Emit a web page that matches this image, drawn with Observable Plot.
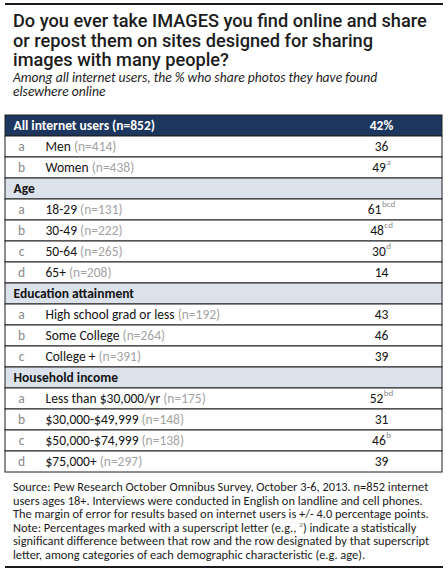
<!DOCTYPE html>
<html><head><meta charset="utf-8">
<script src="https://cdn.jsdelivr.net/npm/d3@7"></script>
<script src="https://cdn.jsdelivr.net/npm/@observablehq/plot@0.6"></script>
<style>
body{margin:0;background:#fff;width:448px;}
svg{display:block;}
</style>
</head><body>
<div id="chart"></div>
<script>
// ---- data ----
const titleLines = ["Do you ever take IMAGES you find online and share", "or repost them on sites designed for sharing", "images with many people?"];
const subtitleLines = ["Among all internet users, the % who share photos they have found", "elsewhere online"];
const rowLabels = ["All internet users","Men","Women","Age","18-29","30-49","50-64","65+","Education attainment","High school grad or less","Some College","College +","Household income","Less than $30,000/yr","$30,000-$49,999","$50,000-$74,999","$75,000+"];
const rowKinds  = ["total","item","item","section","item","item","item","item","section","item","item","item","section","item","item","item","item"];
const rowLetters = ["","a","b","","a","b","c","d","","a","b","c","","a","b","c","d"];
const rowN = [852,414,438,null,131,222,265,208,null,192,264,391,null,175,148,138,297];
const rowValues = [42,36,49,null,61,48,30,14,null,43,46,39,null,52,31,46,39];
const rowSups = ["","","a","","bcd","cd","d","","","","","","","bd","","b",""];
const sourceLines = [
  "Source: Pew Research October Omnibus Survey, October 3-6, 2013. n=852 internet",
  "users ages 18+. Interviews were conducted in English on landline and cell phones.",
  "The margin of error for results based on internet users is +/- 4.0 percentage points.",
  ["Note: Percentages marked with a superscript letter (e.g., ", "a", ") indicate a statistically"],
  "significant difference between that row and the row designated by that superscript",
  "letter, among categories of each demographic characteristic (e.g. age)."
];

// ---- layout / style ----
const W = 448;
const FONT = "Carlito, Calibri, sans-serif";
const L = {left:5, right:442, div1:37, div2:322, letterX:21, labelX:45, headX:13, valueX:381};
const C = {navy:"#1d365d", section:"#dbe2ec", line:"#1e1e1e", gray:"#8a8a8a", ngray:"#a3a3a3", text:"#141414"};
const FS = 13.5, SUPFS = 9;

const rows = rowLabels.map((label,i)=>({key:String(i), label, kind:rowKinds[i], letter:rowLetters[i], n:rowN[i], value:rowValues[i], sup:rowSups[i]}));
const items = rows.filter(d=>d.kind==="item");
const sections = rows.filter(d=>d.kind==="section");
const total = rows.filter(d=>d.kind==="total");

const ctx = document.createElement("canvas").getContext("2d");
function tw(s, size, weight="normal"){ ctx.font = `${weight} ${size}px Carlito, Calibri, sans-serif`; return ctx.measureText(s).width; }
function valStart(d){ const v=String(d.value); const w=tw(v,FS)+(d.sup? tw(d.sup,SUPFS)+0.5:0); return L.valueX - w/2; }

const root = d3.select("#chart");

// ---- header svg (title, subtitle) ----
const head = root.append("svg").attr("width",W).attr("height",107);
head.append("rect").attr("x",5).attr("y",3).attr("width",438).attr("height",2).attr("fill","#1a1a1a");
head.append("g").selectAll("text").data(titleLines).join("text")
  .attr("x",13).attr("y",(d,i)=>27+i*19.5)
  .attr("font-family","Roboto, sans-serif").attr("font-weight",500).attr("font-size",18.2).attr("fill","#1c1c1c").text(d=>d);
head.append("g").selectAll("text").data(subtitleLines).join("text")
  .attr("x",13).attr("y",(d,i)=>82+i*13.7)
  .attr("font-family",FONT).attr("font-style","italic").attr("font-size",13.6).attr("fill","#1c1c1c").text(d=>d);

// ---- table (Plot) ----
const text = (data, o) => Plot.text(data, {y:"key", fontFamily:FONT, fontSize:FS, ...o});
const plot = Plot.plot({
  width: W, height: 372, marginTop: 1, marginBottom: 1, marginLeft: 0, marginRight: 0,
  x: {domain:[0,W], range:[0,W], axis:null},
  y: {domain: rows.map(d=>d.key), axis:null, padding:0},
  color: {type:"identity"},
  style: {fontFamily: FONT, background:"white", overflow:"visible"},
  marks: [
    Plot.barX(rows, {x1:L.left, x2:L.right, y:"key", fill: d => d.kind==="total"?C.navy: d.kind==="section"?C.section:"white", stroke:C.line, strokeWidth:1}),
    Plot.ruleX(items, {x:L.div1, y:"key", stroke:C.line, strokeWidth:1}),
    Plot.ruleX(items, {x:L.div2, y:"key", stroke:C.line, strokeWidth:1}),
    text(total, {x:L.headX, text:d=>`${d.label} (n=${d.n})`, textAnchor:"start", fill:"white", fontWeight:"bold"}),
    text(total, {x:L.valueX, text:d=>`${d.value}%`, fill:"white", fontWeight:"bold"}),
    text(sections, {x:L.headX, text:"label", textAnchor:"start", fill:C.text, fontWeight:"bold"}),
    text(items, {x:L.letterX, text:"letter", fill:C.gray}),
    text(items, {x:L.labelX, text:"label", textAnchor:"start", fill:C.text}),
    text(items, {x:d=>L.labelX + tw(d.label+" ",FS), text:d=>`(n=${d.n})`, textAnchor:"start", fill:C.ngray}),
    text(items, {x:valStart, text:d=>String(d.value), textAnchor:"start", fill:C.text}),
    text(items.filter(d=>d.sup), {x:d=>valStart(d)+tw(String(d.value),FS)+0.5, text:"sup", textAnchor:"start", fill:C.gray, fontSize:SUPFS, dy:-5.5})
  ]
});
root.node().appendChild(plot);

// ---- footer svg (source, note) ----
const foot = root.append("svg").attr("width",W).attr("height",99);
const ft = foot.append("g").attr("font-family",FONT).attr("font-size",12.4).attr("fill","#1c1c1c");
sourceLines.forEach((line,i)=>{
  const t = ft.append("text").attr("x",13).attr("y",12+i*13.5);
  if (Array.isArray(line)) {
    t.append("tspan").text(line[0]);
    t.append("tspan").attr("dy",-5).attr("font-size",8).attr("fill",C.gray).text(line[1]);
    t.append("tspan").attr("dy",5).text(line[2]);
  } else t.text(line);
});
foot.append("rect").attr("x",5).attr("y",87).attr("width",438).attr("height",2).attr("fill","#1a1a1a");
</script>
</body></html>
